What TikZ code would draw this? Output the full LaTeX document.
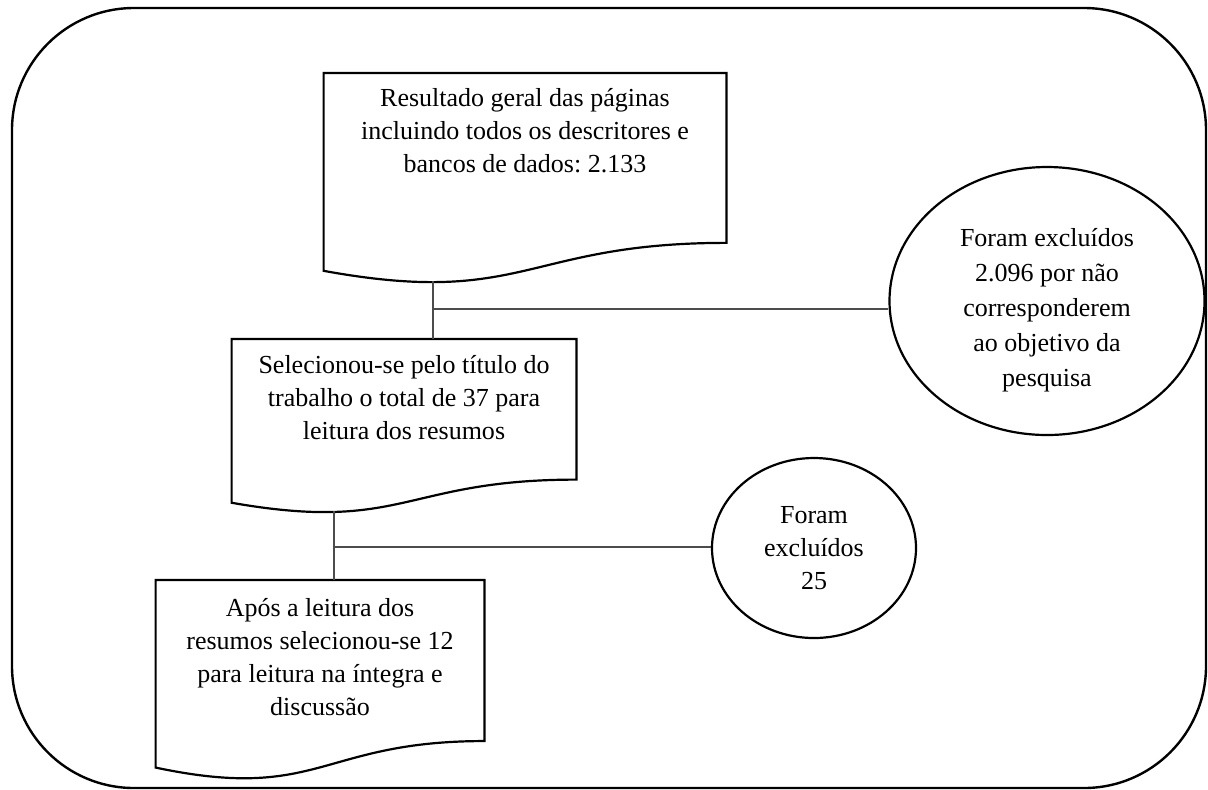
\documentclass[tikz,border=0pt]{standalone}
\usepackage{fontspec}
\setmainfont{Liberation Serif}
\usetikzlibrary{calc}
\usetikzlibrary{shapes.geometric}
\usetikzlibrary{positioning}
\frenchspacing
\newcommand{\flowfont}{\fontsize{13pt}{16.5pt}\selectfont}
\tikzset{docbox/.style={minimum width=#1, inner sep=0pt, align=center, anchor=north, font=\flowfont}}
\tikzset{docline/.style={draw=black, line width=1.1pt}}
\tikzset{exclbox/.style={ellipse, draw=black, line width=1.1pt, inner sep=0pt, align=center, font=\flowfont}}
\tikzset{link/.style={draw=black!70, line width=0.6pt}}
\tikzset{frame/.style={draw=black, line width=1.2pt, rounded corners=61pt}}
\newcommand{\docoutline}[1]{\draw[docline] (#1.north west) -- (#1.north east) -- ($(#1.north east)!0.802!(#1.south east)$) .. controls ($(#1.north)!0.802!(#1.south)$) and ($(#1.north)!1.1075!(#1.south)$) .. ($(#1.north west)!0.934!(#1.south west)$) -- cycle;}

\begin{document}
\begin{tikzpicture}[x=0.5pt, y=-0.5pt]
\useasboundingbox (0,0) rectangle (1208,789);
\draw[frame] (12,8) rectangle (1206,788);

\node[docbox=201pt, text height=49.5pt, text depth=56pt] (result) at (525,73) {Resultado geral das páginas\\incluindo todos os descritores e\\bancos de dados: 2.133};
\node[docbox=172pt, text height=50pt, text depth=37.25pt] (select) at (404,339) {Selecionou-se pelo título do\\trabalho o total de 37 para\\leitura dos resumos};
\node[docbox=164pt, text height=67.5pt, text depth=32.5pt] (reading) at (320,580) {Após a leitura dos\\resumos selecionou-se 12\\para leitura na íntegra e\\discussão};
\foreach \n in {result,select,reading} {\docoutline{\n}}

\node[exclbox, minimum width=157.5pt, minimum height=134pt, font=\fontsize{13pt}{17.5pt}\selectfont, text height=87.5pt, text depth=2.5pt] (excl1) at (1047,301) {Foram excluídos\\2.096 por não\\corresponderem\\ao objetivo da\\pesquisa};
\node[exclbox, minimum width=102pt, minimum height=90pt] (excl2) at (814,548) {Foram\\excluídos\\25};

\coordinate (result-out) at (433,281);
\coordinate (select-out) at (334,511);
\coordinate (j1) at (433,309);
\coordinate (j2) at (334,547);
\draw[link] (result-out) -- (result-out |- select.north);
\draw[link] (select-out) -- (select-out |- reading.north);
\draw[link] (j1) -- (j1 -| excl1.west);
\draw[link] (j2) -- (j2 -| excl2.west);
\end{tikzpicture}
\end{document}
